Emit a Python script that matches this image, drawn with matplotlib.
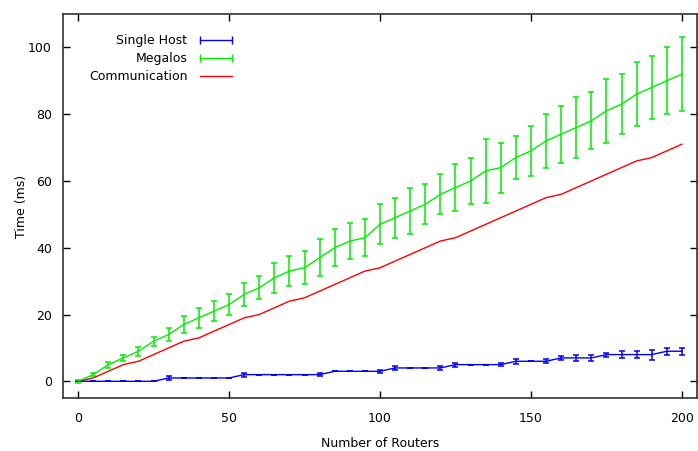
import numpy as np
import matplotlib
matplotlib.use("Agg")
import matplotlib.pyplot as plt
from matplotlib.lines import Line2D

# number of routers
routers = list(range(0, 201, 5))

single_host = [0, 0, 0, 0, 0, 0, 1, 1, 1, 1, 1, 2, 2, 2, 2, 2, 2, 3, 3, 3, 3,
               4, 4, 4, 4, 5, 5, 5, 5, 6, 6, 6, 7, 7, 7, 8, 8, 8, 8, 9, 9]
single_host_err = [0, 0, 0, 0, 0, 0, 0.7, 0, 0, 0, 0, 0.6, 0, 0, 0, 0, 0.5, 0, 0, 0, 0.5,
                   0.6, 0, 0, 0.5, 0.6, 0, 0, 0.5, 0.7, 0, 0.6, 0.7, 1, 1, 0.6, 1, 1, 1.5, 1, 1]

megalos = [0, 2, 5, 7, 9, 12, 14, 17, 19, 21, 23, 26, 28, 31, 33, 34, 37, 40, 42, 43, 47,
           49, 51, 53, 56, 58, 60, 63, 64, 67, 69, 72, 74, 76, 78, 81, 83, 86, 88, 90, 92]
megalos_err = [0.5, 0.5, 0.9, 0.8, 1.4, 1.4, 2, 2.5, 3, 3, 3, 3.4, 3.5, 4.5, 4.5, 5, 5.5, 5.5, 5.5, 5.5, 6,
               6, 7, 6, 6, 7, 7, 9.5, 7.5, 6.5, 7.5, 8, 8.5, 9, 8.5, 9.5, 9, 9.5, 9.5, 10, 11]

communication = [0, 1, 3, 5, 6, 8, 10, 12, 13, 15, 17, 19, 20, 22, 24, 25, 27, 29, 31, 33, 34,
                 36, 38, 40, 42, 43, 45, 47, 49, 51, 53, 55, 56, 58, 60, 62, 64, 66, 67, 69, 71]

plt.rcParams['font.family'] = ['DejaVu Sans']
plt.rcParams['font.size'] = 9

fig = plt.figure(figsize=(6.98, 4.51), dpi=100)
ax = fig.add_axes([63 / 698, 1 - 398 / 451, 634 / 698, 384 / 451])

blue = '#0000ff'
green = '#00ee00'
red = '#ff0000'

ax.errorbar(routers, single_host, yerr=single_host_err, color=blue, lw=1,
            elinewidth=1.1, capsize=2.2, capthick=1.1)
ax.errorbar(routers, megalos, yerr=megalos_err, color=green, lw=1,
            elinewidth=1.1, capsize=2.2, capthick=1.1)
ax.plot(routers, communication, color=red, lw=1)

ax.set_xlim(-5, 205)
ax.set_ylim(-5, 110)
ax.set_xticks([0, 50, 100, 150, 200])
ax.set_yticks([0, 20, 40, 60, 80, 100])
ax.tick_params(direction='in', length=5, width=1, top=True, right=True)
ax.tick_params(axis='x', pad=10)
ax.tick_params(axis='y', pad=8)
for s in ax.spines.values():
    s.set_linewidth(1.2)
    s.set_color('#333333')

ax.set_xlabel('Number of Routers', labelpad=9)
ax.set_ylabel('Time (ms)', labelpad=0)

handles = [Line2D([], [], color=blue, lw=1, marker='|', markersize=6, markeredgewidth=1),
           Line2D([], [], color=green, lw=1, marker='|', markersize=6, markeredgewidth=1),
           Line2D([], [], color=red, lw=1)]
ax.legend(handles, ['Single Host', 'Megalos', 'Communication'], loc='upper right',
          bbox_to_anchor=(0.273, 0.947), frameon=False, markerfirst=False, numpoints=2,
          handlelength=3.2, handletextpad=0.7, labelspacing=0.4, borderpad=0, borderaxespad=0)

fig.savefig('out.png', dpi=100)
